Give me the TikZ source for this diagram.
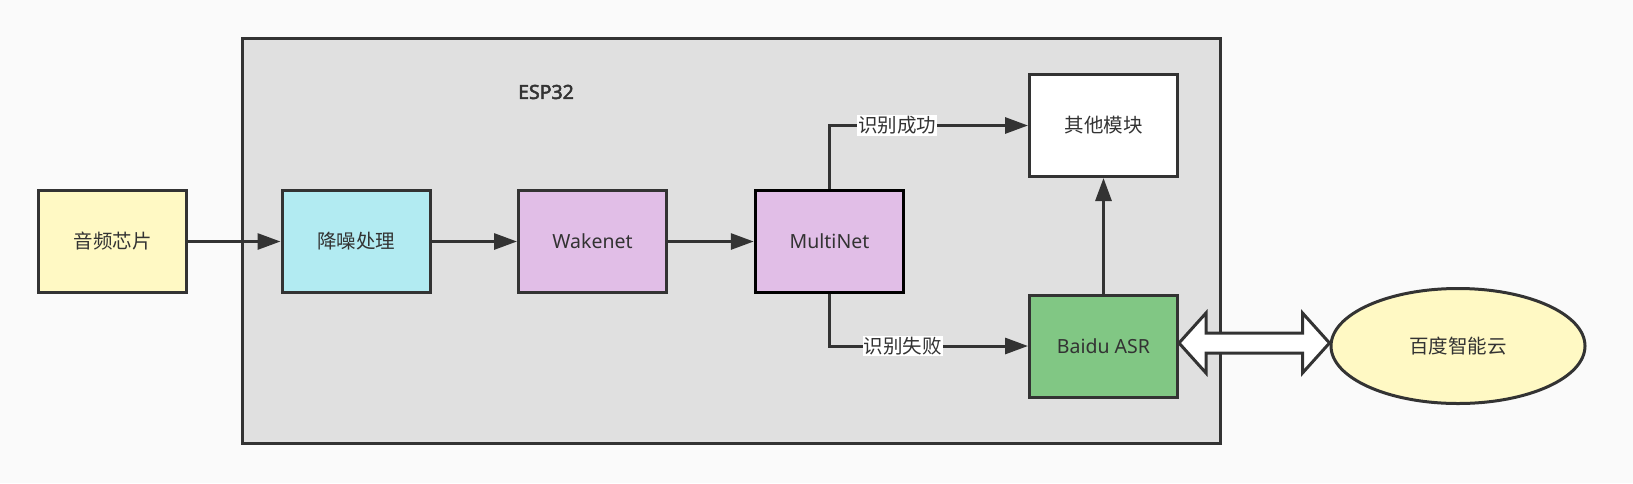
\documentclass[tikz,border=0pt]{standalone}
\usepackage{fontspec}
\setmainfont{Noto Sans}
\newfontfamily\cjk{Noto Sans CJK SC}
\newfontfamily\espf{Noto Sans}[FakeBold=2.5]
\usetikzlibrary{arrows.meta,shapes.geometric,calc}
\definecolor{bgc}{HTML}{FAFAFA}
\definecolor{linec}{HTML}{333333}
\definecolor{contc}{HTML}{E0E0E0}
\definecolor{yelc}{HTML}{FFF9C4}
\definecolor{cyanc}{HTML}{B2EBF2}
\definecolor{purc}{HTML}{E1BEE7}
\definecolor{grnc}{HTML}{81C784}
\tikzset{
  boxst/.style={draw=linec, line width=3pt, rectangle, minimum width=148pt, minimum height=102pt, inner sep=0pt, text=linec, font=\fontsize{19.5}{22}\selectfont},
  flow/.style={draw=linec, line width=3pt, -{Triangle[length=23pt,width=16pt]}},
  lbl/.style={fill=white, inner sep=1pt, text=linec, font=\fontsize{19.5}{22}\selectfont\cjk},
}
\begin{document}
\begin{tikzpicture}[x=1pt,y=-1pt]
\fill[bgc] (0,0) rectangle (1633,483);
\useasboundingbox (0,0) rectangle (1633,483);
% container
\node[draw=linec, fill=contc, line width=3pt, minimum width=978pt, minimum height=405pt, inner sep=0pt] (esp) at (731.5,241) {};
\node[text=linec, font=\fontsize{19.5}{22}\selectfont\espf] (espl) at (546,92) {ESP32};
% boxes
\node[boxst, fill=yelc, font=\fontsize{19.5}{22}\selectfont\cjk] (a) at (112.5,241.5) {音频芯片};
\node[boxst, fill=cyanc, font=\fontsize{19.5}{22}\selectfont\cjk] (n) at (356,241.5) {降噪处理};
\node[boxst, fill=purc] (w) at (592.5,241.5) {Wakenet};
\node[boxst, fill=purc, draw=black, line width=3.5pt] (m) at (829.5,241.5) {MultiNet};
\node[boxst, fill=white, font=\fontsize{19.5}{22}\selectfont\cjk] (o) at (1103.5,125.5) {其他模块};
\node[boxst, fill=grnc] (b) at (1103.5,346) {Baidu ASR};
\node[draw=linec, fill=yelc, line width=3pt, ellipse, minimum width=254pt, minimum height=115pt, inner sep=0pt, text=linec, font=\fontsize{19.5}{22}\selectfont\cjk] (c) at (1458,346) {百度智能云};
% connectors
\draw[flow] (a.east) -- (n.west);
\draw[flow] (n.east) -- (w.west);
\draw[flow] (w.east) -- (m.west);
\draw[flow] (m.north) |- node[lbl, pos=0.671] {识别成功} (o.west);
\draw[flow] (m.south) |- node[lbl, pos=0.685] {识别失败} (b.west);
\draw[flow] (b.north) -- (o.south);
% double arrow
\draw[draw=linec, fill=white, line width=3pt]
  ($(b.east)+(0,-3)$) -- ($(b.east)+(27,-33)$) -- ($(b.east)+(27,-13)$)
  -- ($(c.west)+(-27,-13)$) -- ($(c.west)+(-27,-33)$) -- ($(c.west)+(0,-3)$)
  -- ($(c.west)+(-27,27)$) -- ($(c.west)+(-27,7)$)
  -- ($(b.east)+(27,7)$) -- ($(b.east)+(27,27)$) -- cycle;
\end{tikzpicture}
\end{document}
